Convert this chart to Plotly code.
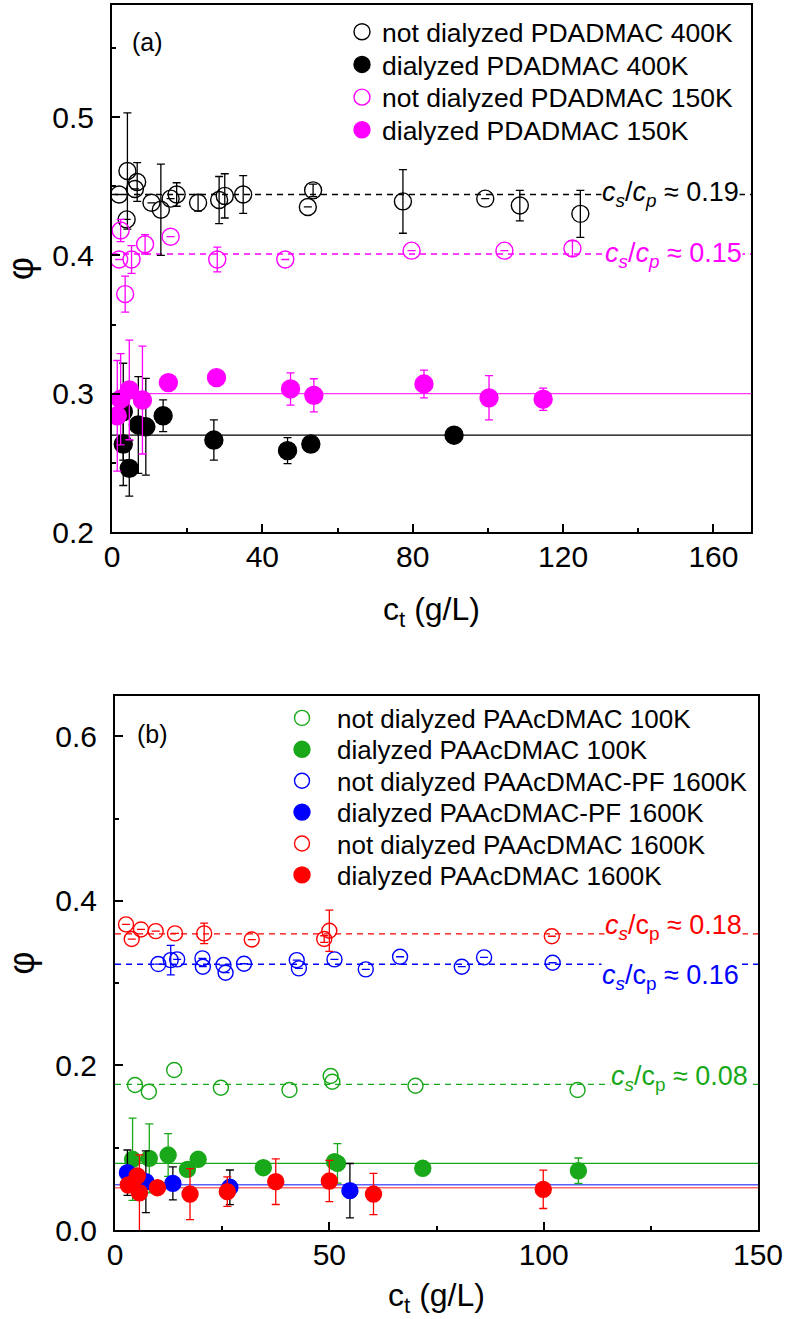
import plotly.graph_objects as go

# ---------------- Panel (a) data ----------------
a_nd400_x = [1.9, 4.1, 3.9, 6.7, 6.1, 10.5, 13.0, 15.6, 17.2, 22.9, 28.5, 30.0, 34.9, 52.1, 53.5, 77.4, 99.3, 108.5, 124.6]
a_nd400_y = [0.444, 0.461, 0.426, 0.453, 0.448, 0.438, 0.433, 0.441, 0.444, 0.438, 0.440, 0.443, 0.444, 0.435, 0.447, 0.439, 0.441, 0.436, 0.430]
a_nd400_e = [None, 0.042, None, 0.014, None, None, 0.033, None, 0.0085, 0.006, 0.017, 0.016, 0.0136, None, 0.0045, 0.023, None, 0.011, 0.017]

a_d400_x = [3.0, 3.0, 4.6, 7.0, 9.0, 13.6, 27.1, 46.7, 52.9, 91.0]
a_d400_y = [0.287, 0.2636, 0.246, 0.2774, 0.2761, 0.284, 0.2665, 0.2588, 0.2636, 0.270]
a_d400_e = [0.035, 0.03, 0.02, 0.035, 0.035, 0.0115, 0.0145, 0.0094, None, None]

a_nd150_x = [2.3, 1.9, 3.5, 5.2, 8.8, 15.6, 28.0, 46.1, 79.7, 104.4, 122.5]
a_nd150_y = [0.418, 0.397, 0.372, 0.397, 0.408, 0.4135, 0.397, 0.397, 0.4034, 0.4034, 0.405]
a_nd150_e = [0.008, None, 0.013, 0.01, 0.007, None, 0.009, None, None, None, 0.0055]

a_d150_x = [1.4, 2.3, 4.6, 8.1, 15.0, 27.8, 47.5, 53.7, 83.0, 100.3, 114.7]
a_d150_y = [0.284, 0.296, 0.3027, 0.2954, 0.308, 0.3116, 0.3034, 0.2988, 0.307, 0.297, 0.296]
a_d150_e = [0.04, 0.033, 0.036, 0.039, None, None, 0.0117, 0.012, 0.01, 0.016, 0.008]

a_levels = {"nd400": 0.444, "nd150": 0.401, "d150": 0.300, "d400": 0.270}

# ---------------- Panel (b) data ----------------
b_nd100_x = [4.67, 7.9, 13.8, 24.7, 40.7, 50.3, 50.7, 70.1, 107.9]
b_nd100_y = [0.1762, 0.168, 0.1944, 0.1729, 0.1701, 0.1871, 0.1802, 0.1753, 0.1701]

b_d100_x = [4.1, 8.0, 12.4, 16.9, 19.4, 34.6, 51.2, 51.9, 71.8, 108.1]
b_d100_y = [0.0859, 0.0871, 0.0911, 0.0737, 0.0859, 0.0757, 0.083, 0.081, 0.075, 0.072]
b_d100_e = [0.05, 0.042, 0.026, 0.008, None, None, None, 0.024, None, 0.0155]

b_ndpf_x = [10.1, 13.0, 14.5, 20.4, 20.5, 25.3, 25.8, 30.1, 42.4, 42.9, 51.2, 58.5, 66.5, 80.9, 86.1, 102.1]
b_ndpf_y = [0.3232, 0.328, 0.3289, 0.3301, 0.320, 0.322, 0.3127, 0.3236, 0.328, 0.318, 0.3289, 0.3168, 0.3321, 0.320, 0.3313, 0.3248]
b_ndpf_e = [None, 0.018, None, None, None, None, None, None, None, None, None, None, None, None, None, None]

b_dpf_x = [2.9, 7.2, 13.5, 26.8, 54.8]
b_dpf_y = [0.0697, 0.0587, 0.0567, 0.0519, 0.0478]
b_dpf_e = [0.0275, 0.0375, 0.02, 0.021, 0.033]

b_nd1600_x = [2.57, 3.9, 6.06, 9.5, 14.0, 20.8, 31.9, 48.8, 50.0, 101.9]
b_nd1600_y = [0.3714, 0.3536, 0.3653, 0.3633, 0.3605, 0.3605, 0.353, 0.3536, 0.3637, 0.357]
b_nd1600_e = [None, None, None, None, None, 0.0125, None, 0.004, 0.025, None]

b_d1600_x = [3.1, 5.2, 5.7, 9.9, 17.5, 26.2, 37.5, 50.0, 60.3, 99.9]
b_d1600_y = [0.0547, 0.0656, 0.0453, 0.0514, 0.0437, 0.0466, 0.0587, 0.0595, 0.0437, 0.0494]
b_d1600_e = [None, None, 0.046, None, 0.031, 0.018, 0.0277, 0.025, 0.025, 0.0233]

b_levels = {"nd1600": 0.360, "ndpf": 0.323, "nd100": 0.177, "d100": 0.081, "dpf": 0.055, "d1600": 0.0514}

A_XMAX, B_XMAX = 170, 150

BLACK, MAG = "#000000", "#FF00FF"
GREEN, BLUE, RED = "#19A819", "#0000FF", "#FF0000"
FONT = "Liberation Sans, Arial, sans-serif"
W, H = 787, 1319


def px2paper_x(px):
    return px / W


def px2paper_y(py):
    return 1 - py / H


fig = go.Figure()
legend_layouts = {}


def hline(level, xmax, color, dash, xa, ya, width=1.3):
    fig.add_trace(go.Scatter(x=[0, xmax], y=[level, level], mode="lines",
                             line=dict(color=color, width=width, dash=dash),
                             showlegend=False, hoverinfo="skip", xaxis=xa, yaxis=ya))


def pts(x, y, e, name, color, filled, size, xa, ya, legend_id, leg_x, leg_y, fsize, iw,
        ecolor=None):
    err = None
    if e is not None:
        err = dict(type="data", array=e, visible=True, color=ecolor or color,
                   thickness=1.3, width=4)
    fig.add_trace(go.Scatter(
        x=x, y=y, mode="markers", name=name, legend=legend_id,
        marker=dict(symbol="circle" if filled else "circle-open", size=size,
                    color=color, line=dict(color=color, width=1.4)),
        error_y=err, xaxis=xa, yaxis=ya))
    legend_layouts[legend_id] = dict(
        x=px2paper_x(leg_x), y=px2paper_y(leg_y), xanchor="left", yanchor="middle",
        bgcolor="rgba(0,0,0,0)", font=dict(family=FONT, size=fsize, color="black"),
        itemwidth=iw, borderwidth=0)


# Panel (a)
dash = "6px,5px"
hline(a_levels["nd400"], A_XMAX, BLACK, dash, "x", "y")
hline(a_levels["nd150"], A_XMAX, MAG, dash, "x", "y")
hline(a_levels["d150"], A_XMAX, "rgba(255,0,255,0.8)", "solid", "x", "y")
hline(a_levels["d400"], A_XMAX, BLACK, "solid", "x", "y")

LA_X, LA_FS, LA_IW = 342, 26.5, 30
LA_Y = [32, 64.7, 97.4, 130]
pts(a_nd400_x, a_nd400_y, a_nd400_e, "not dialyzed PDADMAC 400K", BLACK, False, 17, "x", "y", "legend", LA_X, LA_Y[0], LA_FS, LA_IW)
pts(a_d400_x, a_d400_y, a_d400_e, "dialyzed PDADMAC 400K", BLACK, True, 18, "x", "y", "legend2", LA_X, LA_Y[1], LA_FS, LA_IW)
pts(a_nd150_x, a_nd150_y, a_nd150_e, "not dialyzed PDADMAC 150K", MAG, False, 17, "x", "y", "legend3", LA_X, LA_Y[2], LA_FS, LA_IW)
pts(a_d150_x, a_d150_y, a_d150_e, "dialyzed PDADMAC 150K", MAG, True, 18, "x", "y", "legend4", LA_X, LA_Y[3], LA_FS, LA_IW)

# Panel (b)
hline(b_levels["nd1600"], B_XMAX, RED, dash, "x2", "y2")
hline(b_levels["ndpf"], B_XMAX, BLUE, dash, "x2", "y2")
hline(b_levels["nd100"], B_XMAX, GREEN, dash, "x2", "y2")
hline(b_levels["d100"], B_XMAX, GREEN, "solid", "x2", "y2")
hline(b_levels["dpf"], B_XMAX, "rgba(40,40,255,0.75)", "solid", "x2", "y2", 1.6)
hline(b_levels["d1600"], B_XMAX, "rgba(255,60,60,0.75)", "solid", "x2", "y2", 1.6)

LB_X, LB_FS, LB_IW = 267, 26, 60
LB_Y = [718, 749.4, 780.8, 812.2, 843.6, 875]
pts(b_nd100_x, b_nd100_y, None, "not dialyzed PAAcDMAC 100K", GREEN, False, 15, "x2", "y2", "legend5", LB_X, LB_Y[0], LB_FS, LB_IW)
pts(b_d100_x, b_d100_y, b_d100_e, "dialyzed PAAcDMAC 100K", GREEN, True, 16, "x2", "y2", "legend6", LB_X, LB_Y[1], LB_FS, LB_IW)
pts(b_ndpf_x, b_ndpf_y, b_ndpf_e, "not dialyzed PAAcDMAC-PF 1600K", BLUE, False, 15, "x2", "y2", "legend7", LB_X, LB_Y[2], LB_FS, LB_IW)
pts(b_dpf_x, b_dpf_y, b_dpf_e, "dialyzed PAAcDMAC-PF 1600K", BLUE, True, 16, "x2", "y2", "legend8", LB_X, LB_Y[3], LB_FS, LB_IW, ecolor=BLACK)
pts(b_nd1600_x, b_nd1600_y, b_nd1600_e, "not dialyzed PAAcDMAC 1600K", RED, False, 15, "x2", "y2", "legend9", LB_X, LB_Y[4], LB_FS, LB_IW)
pts(b_d1600_x, b_d1600_y, b_d1600_e, "dialyzed PAAcDMAC 1600K", RED, True, 16, "x2", "y2", "legend10", LB_X, LB_Y[5], LB_FS, LB_IW)

TICK_FS, TITLE_FS = 30, 32
axis_common = dict(showline=True, linewidth=2, linecolor="black", mirror=True,
                   ticks="inside", ticklen=8, tickwidth=1.5, tickcolor="black",
                   showgrid=False, zeroline=False, automargin=False,
                   tickfont=dict(family=FONT, size=TICK_FS, color="black"))
minor_common = dict(ticks="inside", ticklen=4, tickwidth=1.5, tickcolor="black")

fig.update_layout(
    width=W, height=H, margin=dict(l=0, r=0, t=0, b=0, autoexpand=False),
    paper_bgcolor="white", plot_bgcolor="white",
    font=dict(family=FONT, color="black"),
    xaxis=dict(axis_common, domain=[px2paper_x(112), px2paper_x(751)], range=[0, A_XMAX],
               dtick=40, tick0=0, anchor="y", minor=dict(minor_common, dtick=20),
               title=dict(text="c<sub>t</sub> (g/L)", font=dict(size=TITLE_FS), standoff=26),
               ticklabelstandoff=-3),
    yaxis=dict(axis_common, domain=[px2paper_y(532), px2paper_y(5)], range=[0.2, 0.581],
               dtick=0.1, tick0=0.2, tickformat=".1f", anchor="x",
               minor=dict(minor_common, dtick=0.05),
               title=dict(text="φ", font=dict(size=36), standoff=10),
               ticklabelstandoff=10),
    xaxis2=dict(axis_common, domain=[px2paper_x(115), px2paper_x(758)], range=[0, B_XMAX],
                dtick=50, tick0=0, anchor="y2", minor=dict(minor_common, dtick=25),
                title=dict(text="c<sub>t</sub> (g/L)", font=dict(size=TITLE_FS), standoff=14),
                ticklabelstandoff=-3),
    yaxis2=dict(axis_common, domain=[px2paper_y(1230), px2paper_y(696)], range=[0, 0.649],
                dtick=0.2, tick0=0, tickformat=".1f", anchor="x2",
                minor=dict(minor_common, dtick=0.1),
                title=dict(text="φ", font=dict(size=36), standoff=10),
                ticklabelstandoff=10),
    showlegend=True,
)
fig.update_layout(**legend_layouts)


def ratio_label(text_html, x, y, color, xa, ya, size=27):
    fig.add_annotation(x=x, y=y, xref=xa, yref=ya, text=text_html, showarrow=False,
                       font=dict(family=FONT, size=size, color=color),
                       bgcolor="white", borderpad=0, xanchor="center", yanchor="middle")


ita = "<i>c</i><sub><i>s</i></sub>/<i>c</i><sub><i>p</i></sub> ≈ "
itb = "<i>c</i><sub><i>s</i></sub>/c<sub>p</sub> ≈ "
ratio_label(ita + "0.19", 148.5, a_levels["nd400"], BLACK, "x", "y")
ratio_label(ita + "0.15", 149.5, a_levels["nd150"] - 0.001, MAG, "x", "y")
ratio_label(itb + "0.18", 130.4, 0.3685, RED, "x2", "y2")
ratio_label(itb + "0.16", 129.7, 0.3078, BLUE, "x2", "y2")
ratio_label(itb + "0.08", 131.6, 0.1843, GREEN, "x2", "y2")

fig.add_annotation(x=px2paper_x(147), y=px2paper_y(42), xref="paper", yref="paper",
                   xanchor="center", yanchor="middle",
                   text="(a)", showarrow=False, font=dict(family=FONT, size=25, color="black"))
fig.add_annotation(x=px2paper_x(152), y=px2paper_y(734), xref="paper", yref="paper",
                   xanchor="center", yanchor="middle",
                   text="(b)", showarrow=False, font=dict(family=FONT, size=25, color="black"))

fig.write_html("out.html", config={"displayModeBar": False},
               post_script="document.body.style.margin='0';document.body.style.padding='0';")
